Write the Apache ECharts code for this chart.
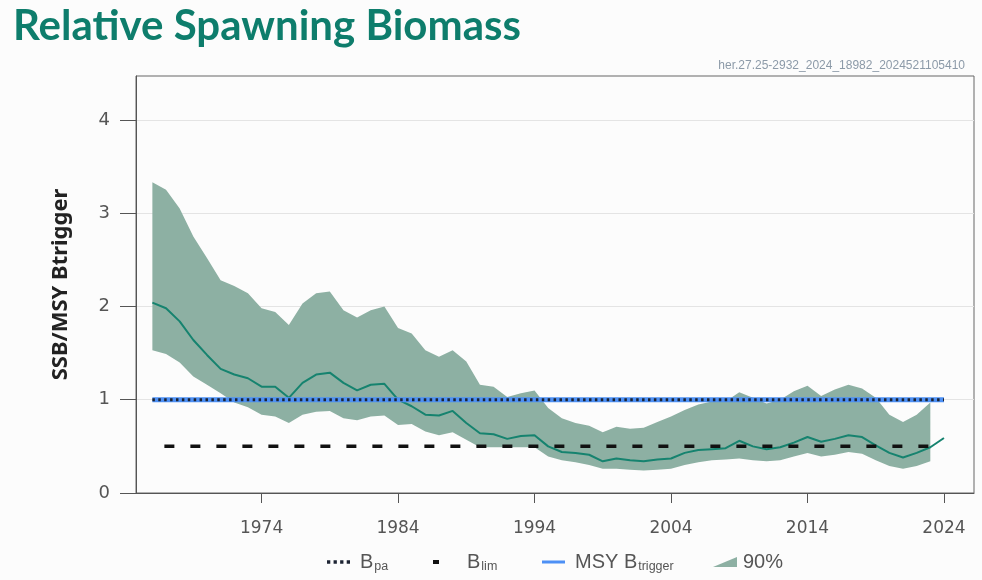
<!DOCTYPE html>
<html>
<head>
<meta charset="utf-8">
<script src="https://cdn.jsdelivr.net/npm/echarts@6/dist/echarts.min.js"></script>
<style>html,body{margin:0;padding:0;background:#fcfcfc;}#c{width:982px;height:580px;}</style>
</head>
<body>
<div id="c"></div>
<script>
const years = [1966,1967,1968,1969,1970,1971,1972,1973,1974,1975,1976,1977,1978,1979,1980,1981,1982,1983,1984,1985,1986,1987,1988,1989,1990,1991,1992,1993,1994,1995,1996,1997,1998,1999,2000,2001,2002,2003,2004,2005,2006,2007,2008,2009,2010,2011,2012,2013,2014,2015,2016,2017,2018,2019,2020,2021,2022,2023,2024];
const median = [2.04,1.98,1.84,1.64,1.48,1.33,1.27,1.23,1.14,1.14,1.02,1.18,1.27,1.29,1.18,1.10,1.16,1.17,1.00,0.93,0.84,0.83,0.88,0.75,0.64,0.63,0.58,0.61,0.62,0.50,0.44,0.43,0.41,0.34,0.37,0.35,0.34,0.36,0.37,0.43,0.46,0.47,0.48,0.56,0.50,0.47,0.49,0.54,0.60,0.55,0.58,0.62,0.60,0.51,0.43,0.38,0.43,0.49,0.59];
const bandYears = [1966,1967,1968,1969,1970,1971,1972,1973,1974,1975,1976,1977,1978,1979,1980,1981,1982,1983,1984,1985,1986,1987,1988,1989,1990,1991,1992,1993,1994,1995,1996,1997,1998,1999,2000,2001,2002,2003,2004,2005,2006,2007,2008,2009,2010,2011,2012,2013,2014,2015,2016,2017,2018,2019,2020,2021,2022,2023];
const upper = [3.33,3.25,3.05,2.75,2.52,2.28,2.22,2.14,1.98,1.94,1.80,2.03,2.14,2.16,1.96,1.88,1.96,2.00,1.77,1.71,1.53,1.46,1.53,1.41,1.16,1.14,1.03,1.07,1.10,0.91,0.80,0.75,0.72,0.65,0.71,0.69,0.70,0.76,0.82,0.89,0.95,0.98,0.98,1.08,1.02,0.96,1.00,1.09,1.15,1.04,1.11,1.16,1.12,1.02,0.84,0.76,0.84,0.97];
const lower = [1.53,1.49,1.40,1.25,1.16,1.07,0.97,0.92,0.84,0.82,0.75,0.84,0.87,0.88,0.80,0.78,0.82,0.83,0.73,0.74,0.66,0.62,0.65,0.57,0.49,0.49,0.49,0.49,0.49,0.39,0.35,0.33,0.30,0.26,0.26,0.25,0.24,0.25,0.26,0.30,0.33,0.35,0.36,0.37,0.35,0.34,0.35,0.39,0.43,0.39,0.41,0.44,0.42,0.35,0.29,0.26,0.29,0.34];
const refYears = [1966, 2024];
const Bpa = 1.0;
const Blim = 0.5;
const MSYBtrigger = 1.0;
const xTicks = [1974,1984,1994,2004,2014,2024];
const yTicks = [0,1,2,3,4];

const bandColor = '#8db0a3';
const lineColor = '#16836f';
const blueColor = '#4d90f5';

const chart = echarts.init(document.getElementById('c'), null, {renderer:'canvas'});

const rich = {
  b: {fontSize: 20, color: '#555', fontFamily: 'Liberation Sans'},
  s: {fontSize: 12.5, color: '#555', fontFamily: 'Liberation Sans', padding: [9,0,0,1]}
};
function legendFmt(name){
  if (name === 'Bpa') return '{b|B}{s|pa}';
  if (name === 'Blim') return '{b|B}{s|lim}';
  if (name === 'MSY Btrigger') return '{b|MSY B}{s|trigger}';
  return '{b|' + name + '}';
}
function mkLegend(name, left, icon, w, h, color, padLeft){
  return {
    left: left, top: 552, padding: 0, orient: 'horizontal', selectedMode: false,
    itemWidth: w, itemHeight: h,
    data: [{name: name, icon: icon, itemStyle: {color: color}}],
    formatter: legendFmt,
    textStyle: {rich: rich, padding: [0,0,0,padLeft]}
  };
}

const bandData = bandYears.map((y,i)=>[y, lower[i], upper[i]]);

const option = {
  backgroundColor: '#fcfcfc',
  animation: false,
  title: [
    {text: 'Relative Spawning Biomass', left: 8, top: 0,
     textStyle: {fontFamily: 'Lato', fontWeight: 'bold', fontSize: 42, color: '#0e7d6c'}},
    {text: 'her.27.25-2932_2024_18982_2024521105410', right: 12, top: 55,
     textStyle: {fontFamily: 'Liberation Sans', fontWeight: 'normal', fontSize: 12, color: '#8c9aa8'}}
  ],
  legend: [
    mkLegend('Bpa', 327, 'path://M0,0h2v2h-2z M4,0h2v2h-2z M8,0h2v2h-2z M12,0h2v2h-2z', 23, 4, '#1d2433', 5),
    mkLegend('Blim', 433, 'rect', 6, 4, '#111', 23),
    mkLegend('MSY Btrigger', 542, 'rect', 23, 3, blueColor, 5),
    mkLegend('90%', 713, 'path://M0,10L24,0L24,10Z', 24, 12, bandColor, 1)
  ],
  grid: {left: 136, right: 8, top: 76, bottom: 87, show: true, borderColor: '#666', borderWidth: 1, backgroundColor: 'transparent'},
  xAxis: {
    type: 'value', min: 1964.8, max: 2026.2,
    axisLine: {show: true, lineStyle: {color: '#555'}},
    axisTick: {show: true, length: 10, lineStyle: {color: '#555'}, customValues: xTicks},
    axisLabel: {customValues: xTicks, margin: 27, fontSize: 17, color: '#555', fontFamily: 'DejaVu Sans',
                formatter: v => String(v)},
    splitLine: {show: false}
  },
  yAxis: {
    type: 'value', min: 0, max: 4.47,
    name: 'SSB/MSY Btrigger', nameLocation: 'middle', nameGap: 64,
    nameTextStyle: {fontFamily: 'Noto Sans', fontWeight: 'bold', fontSize: 22, color: '#222'},
    axisLine: {show: true, lineStyle: {color: '#555'}},
    axisTick: {show: true, length: 16, lineStyle: {color: '#555'}, customValues: yTicks},
    axisLabel: {customValues: yTicks, margin: 26, fontSize: 18, color: '#555', fontFamily: 'DejaVu Sans'},
    splitLine: {show: true, lineStyle: {color: '#e4e4e4'}}
  },
  series: [
    {name: '90%', type: 'custom', color: bandColor, data: bandData,
     encode: {x: 0, y: [1, 2]}, z: 2,
     renderItem: function(params, api){
       if (params.dataIndex !== 0) return null;
       const pts = [];
       for (let i = 0; i < bandData.length; i++) pts.push(api.coord([bandData[i][0], bandData[i][2]]));
       for (let i = bandData.length - 1; i >= 0; i--) pts.push(api.coord([bandData[i][0], bandData[i][1]]));
       return {type: 'polygon', shape: {points: pts}, style: {fill: bandColor, stroke: null}};
     }},
    {name: 'median', type: 'line', symbol: 'none', color: lineColor,
     data: years.map((y,i)=>[y, median[i]]), lineStyle: {width: 2, color: lineColor}, z: 3},
    {name: 'Blim', type: 'line', symbol: 'none', color: '#111',
     data: refYears.map(y=>[y, Blim]), lineStyle: {width: 3.5, color: '#111', type: [10,16], dashOffset: 14}, z: 4},
    {name: 'MSY Btrigger', type: 'line', symbol: 'none', color: blueColor,
     data: refYears.map(y=>[y, MSYBtrigger]), lineStyle: {width: 5, color: blueColor}, z: 4},
    {name: 'Bpa', type: 'line', symbol: 'none', color: '#1d2433',
     data: refYears.map(y=>[y, Bpa]), lineStyle: {width: 3, color: '#1d2433', type: [2.5,3.4]}, z: 5}
  ]
};
chart.setOption(option);
</script>
</body>
</html>
